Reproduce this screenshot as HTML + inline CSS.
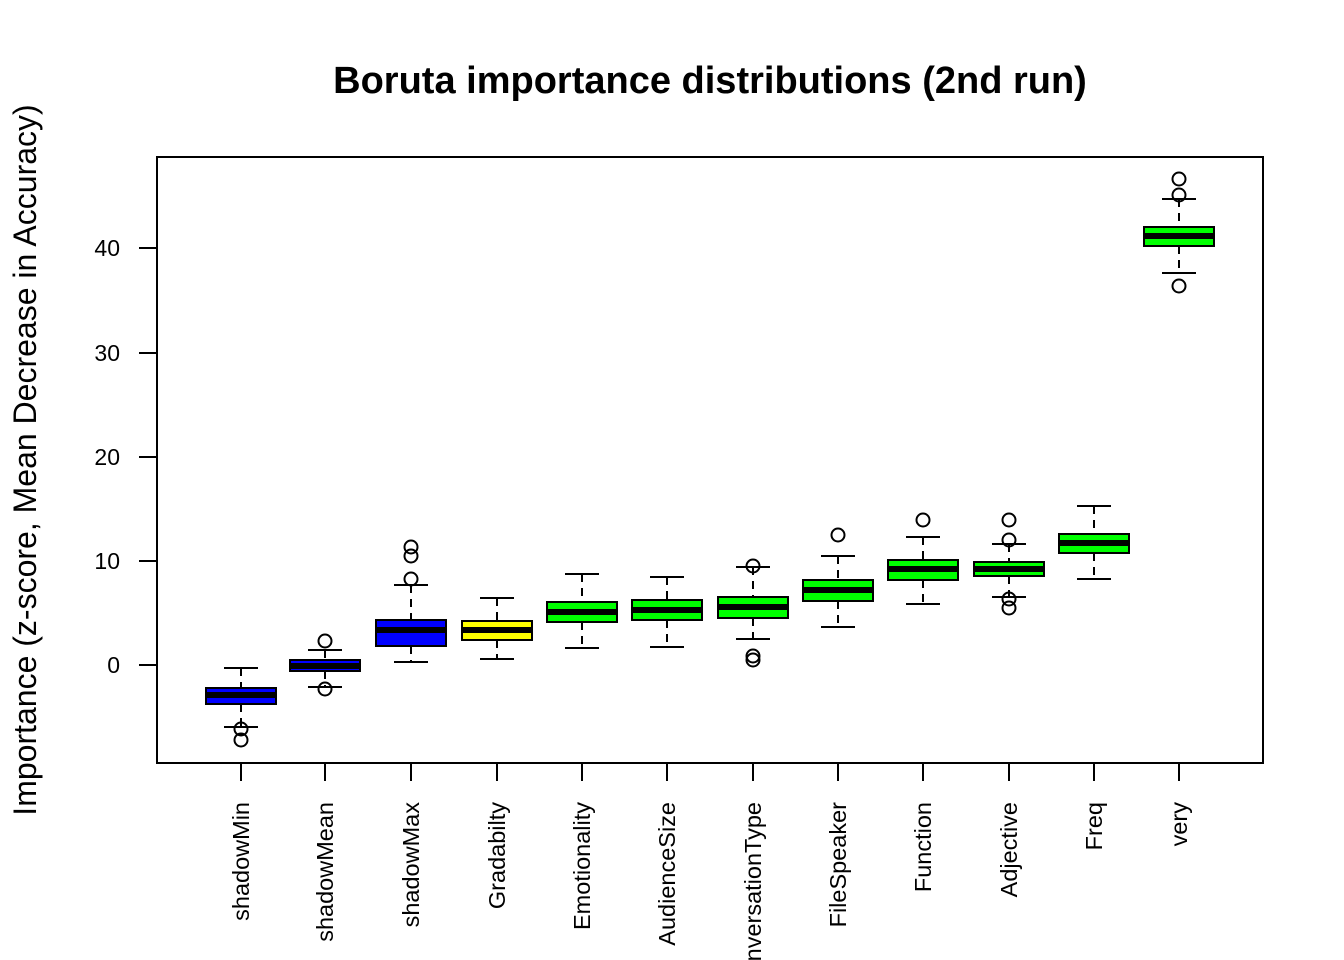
<!DOCTYPE html>
<html><head><meta charset="utf-8"><style>
html,body{margin:0;padding:0;background:#fff;width:1344px;height:960px;overflow:hidden}
svg{display:block;font-family:"Liberation Sans",Arial,sans-serif}
</style></head><body>
<svg id="s" width="1344" height="960" viewBox="0 0 1344 960">
<rect x="0" y="0" width="1344" height="960" fill="#fff"/>
<text x="710" y="93" font-size="38" font-weight="bold" text-anchor="middle">Boruta importance distributions (2nd run)</text>
<text transform="translate(36,460) rotate(-90)" font-size="32" text-anchor="middle">Importance (z-score, Mean Decrease in Accuracy)</text>
<rect x="157" y="157" width="1106" height="606" fill="none" stroke="#000" stroke-width="2"/>
<g stroke="#000" stroke-width="2">
<line x1="139" y1="248" x2="157" y2="248"/><line x1="139" y1="353" x2="157" y2="353"/>
<line x1="139" y1="457" x2="157" y2="457"/><line x1="139" y1="561" x2="157" y2="561"/>
<line x1="139" y1="665" x2="157" y2="665"/>
</g>
<g font-size="23" text-anchor="end">
<text x="120" y="256">40</text><text x="120" y="361">30</text><text x="120" y="465">20</text>
<text x="120" y="569">10</text><text x="120" y="673">0</text>
</g>
<g id="boxes"></g>
</svg>
<script>
var d=[
["shadowMin",241,"#0000ff",688,704,695,668,727,[729,740]],
["shadowMean",325,"#0000ff",660,671,666,650,687,[641,689]],
["shadowMax",411,"#0000ff",620,646,630,585,662,[579,556,547]],
["Gradabilty",497,"#ffff00",621,640,630,598,659,[]],
["Emotionality",582,"#00ff00",602,622,612,574,648,[]],
["AudienceSize",667,"#00ff00",600,620,610,577,647,[]],
["ConversationType",753,"#00ff00",597,618,607,567,639,[566,656,660]],
["FileSpeaker",838,"#00ff00",580,601,590,556,627,[535]],
["Function",923,"#00ff00",560,580,569,537,604,[520]],
["Adjective",1009,"#00ff00",562,576,569,544,597,[520,540,599,608]],
["Freq",1094,"#00ff00",534,553,543,506,579,[]],
["very",1179,"#00ff00",227,246,236,199,273,[179,195,286]]];
var h="";
d.forEach(function(b){var x=b[1];
h+='<line x1="'+x+'" y1="'+b[6]+'" x2="'+x+'" y2="'+b[3]+'" stroke="#000" stroke-width="2" stroke-dasharray="8,6"/>';
h+='<line x1="'+x+'" y1="'+b[4]+'" x2="'+x+'" y2="'+b[7]+'" stroke="#000" stroke-width="2" stroke-dasharray="8,6"/>';
h+='<line x1="'+(x-17)+'" y1="'+b[6]+'" x2="'+(x+17)+'" y2="'+b[6]+'" stroke="#000" stroke-width="2"/>';
h+='<line x1="'+(x-17)+'" y1="'+b[7]+'" x2="'+(x+17)+'" y2="'+b[7]+'" stroke="#000" stroke-width="2"/>';
h+='<rect x="'+(x-35)+'" y="'+b[3]+'" width="70" height="'+(b[4]-b[3])+'" fill="'+b[2]+'" stroke="#000" stroke-width="2"/>';
h+='<line x1="'+(x-35)+'" y1="'+b[5]+'" x2="'+(x+35)+'" y2="'+b[5]+'" stroke="#000" stroke-width="6"/>';
b[8].forEach(function(o){h+='<circle cx="'+x+'" cy="'+o+'" r="6.5" fill="none" stroke="#000" stroke-width="2"/>';});
h+='<line x1="'+x+'" y1="763" x2="'+x+'" y2="781" stroke="#000" stroke-width="2"/>';
h+='<text transform="translate('+(x+8)+',802) rotate(-90)" font-size="23.5" text-anchor="end">'+b[0]+'</text>';
});
document.getElementById("boxes").innerHTML=h;
</script>
</body></html>
